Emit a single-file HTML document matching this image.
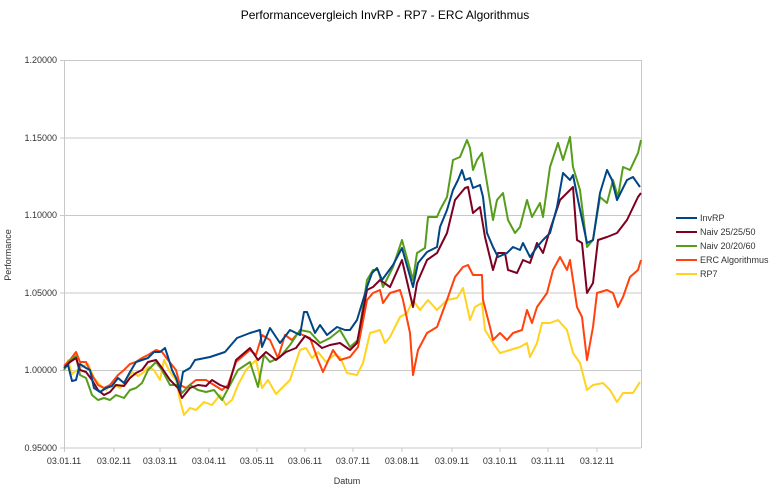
<!DOCTYPE html>
<html><head><meta charset="utf-8"><style>
body{margin:0;background:#fff}
svg{display:block;font-family:"Liberation Sans",sans-serif}
</style></head><body>
<svg width="770" height="494" viewBox="0 0 770 494">
<rect width="770" height="494" fill="#fff"/>
<text x="385" y="19" font-size="12" text-anchor="middle" fill="#000">Performancevergleich InvRP - RP7 - ERC Algorithmus</text>
<g stroke="#c8c8c8" stroke-width="1">
<line x1="60" y1="60.5" x2="641" y2="60.5"/>
<line x1="60" y1="138" x2="641" y2="138"/>
<line x1="60" y1="215.5" x2="641" y2="215.5"/>
<line x1="60" y1="293" x2="641" y2="293"/>
<line x1="60" y1="370.5" x2="641" y2="370.5"/>
<line x1="60" y1="448" x2="641" y2="448"/>
<line x1="64.5" y1="60" x2="64.5" y2="452"/>
<line x1="641.5" y1="60" x2="641.5" y2="448"/>
<line x1="114" y1="448" x2="114" y2="452"/><line x1="160" y1="448" x2="160" y2="452"/><line x1="209" y1="448" x2="209" y2="452"/><line x1="257" y1="448" x2="257" y2="452"/><line x1="305" y1="448" x2="305" y2="452"/><line x1="353" y1="448" x2="353" y2="452"/><line x1="402" y1="448" x2="402" y2="452"/><line x1="452" y1="448" x2="452" y2="452"/><line x1="500" y1="448" x2="500" y2="452"/><line x1="548" y1="448" x2="548" y2="452"/><line x1="597" y1="448" x2="597" y2="452"/>
</g>
<g font-size="9" fill="#333" text-anchor="end">
<text x="57" y="63">1.20000</text><text x="57" y="141">1.15000</text><text x="57" y="218">1.10000</text><text x="57" y="296">1.05000</text><text x="57" y="373">1.00000</text><text x="57" y="451">0.95000</text>
</g>
<g font-size="9" fill="#333" text-anchor="middle">
<text x="64" y="464">03.01.11</text><text x="114" y="464">03.02.11</text><text x="160" y="464">03.03.11</text><text x="209" y="464">03.04.11</text><text x="257" y="464">03.05.11</text><text x="305" y="464">03.06.11</text><text x="353" y="464">03.07.11</text><text x="402" y="464">03.08.11</text><text x="452" y="464">03.09.11</text><text x="500" y="464">03.10.11</text><text x="548" y="464">03.11.11</text><text x="597" y="464">03.12.11</text>
</g>
<text x="347" y="484" font-size="9" text-anchor="middle" fill="#333">Datum</text>
<text transform="translate(11,255) rotate(-90)" font-size="9" text-anchor="middle" fill="#333">Performance</text>
<g fill="none" stroke-width="2" stroke-linejoin="round">
<polyline stroke="#ffd320" points="64,370 68,360 72,374 80,368 88,364 94,378 100,385 106,390 112,383 120,388 126,382 132,372 138,376 144,372 148,367 154,370 160,380 164,360 170,372 176,380 180,400 184,415 190,408 196,410 204,402 212,405 220,395 226,405 232,400 238,385 246,370 256,360 262,388 268,380 276,394 282,388 290,380 300,350 306,348 312,358 318,352 326,362 334,355 340,357 347,373 357,375 363,363 370,333 380,330 385,343 390,337 400,317 407,313 413,300 420,310 428,300 437,310 447,300 457,298 463,288 470,320 475,307 482,303 485,330 493,343 500,353 510,350 520,347 527,343 530,357 537,343 542,323 550,323 558,320 567,330 573,353 580,363 587,390 593,385 603,383 610,390 617,402 623,393 633,393 640,382"/>
<polyline stroke="#ff420e" points="64,366 70,360 76,352 80,362 86,362 92,375 98,385 104,388 110,385 118,375 124,370 130,364 136,362 142,358 148,355 156,350 162,352 168,360 176,370 180,385 186,388 196,380 206,380 214,385 222,390 228,385 236,362 250,350 256,355 262,335 270,340 278,358 285,335 292,340 298,333 310,338 318,360 323,372 333,350 340,360 350,357 358,347 367,300 373,293 380,290 383,303 390,293 400,290 403,300 410,333 413,375 418,350 427,333 437,327 447,300 455,277 463,267 468,265 473,275 482,275 483,300 490,327 493,340 500,333 507,340 513,333 522,330 527,310 532,323 537,307 547,293 553,270 560,257 567,270 570,260 577,307 582,317 587,360 593,327 597,293 607,290 613,293 618,307 623,297 630,277 638,270 641,260"/>
<polyline stroke="#579d1c" points="64,370 70,360 76,356 80,375 86,378 92,395 98,400 104,398 110,400 116,395 124,398 130,390 136,388 142,383 148,370 156,362 162,370 170,385 178,385 182,393 190,385 198,390 206,392 214,390 222,400 230,385 238,370 250,362 258,387 264,355 270,362 280,357 290,345 300,330 310,332 320,343 330,338 340,330 350,347 358,340 367,280 373,270 378,270 383,287 393,267 402,240 413,280 417,253 425,248 428,217 437,217 440,210 447,197 453,160 460,157 467,140 470,148 473,170 477,160 482,153 487,183 493,220 497,200 503,193 508,220 515,233 520,227 527,200 532,217 540,203 543,217 550,167 558,143 563,160 570,137 573,167 580,190 587,247 593,240 600,197 607,203 613,180 618,197 623,167 630,170 638,153 641,140"/>
<polyline stroke="#7e0021" points="64,368 70,362 76,358 80,370 86,372 92,380 98,390 104,395 110,392 116,385 124,386 130,378 136,373 142,370 148,362 156,360 162,368 170,380 178,388 182,398 190,388 198,385 206,386 212,380 220,385 228,388 236,360 250,348 258,360 266,352 276,360 286,352 296,348 305,336 315,342 322,348 330,345 340,343 350,350 357,343 367,290 373,287 380,280 390,287 402,260 413,307 417,283 427,260 437,253 447,233 455,200 465,188 468,187 473,213 480,207 485,237 493,270 498,253 505,253 508,270 517,273 523,260 530,263 537,243 543,253 550,230 560,200 570,190 573,187 577,240 582,243 587,293 593,283 598,240 607,237 617,233 627,220 638,197 641,193"/>
<polyline stroke="#004586" points="64,368 68,365 72,381 76,380 80,364 86,368 90,370 94,388 100,392 106,388 112,386 118,378 124,383 130,372 136,362 142,360 148,358 154,352 160,352 165,348 168,357 172,370 176,378 180,390 183,372 190,368 195,360 210,357 225,352 237,338 250,333 260,330 262,347 270,328 280,343 290,330 300,335 304,312 307,312 315,333 320,325 327,335 337,327 345,330 350,330 357,320 367,287 372,273 377,268 382,280 393,265 402,248 413,287 418,263 427,252 437,247 440,227 447,210 453,190 458,180 462,170 465,180 470,178 473,188 480,185 483,197 487,233 493,247 498,257 507,253 513,247 520,250 523,243 530,257 537,247 543,240 550,233 557,207 563,173 570,180 573,175 578,200 587,243 593,240 600,193 607,170 612,180 617,200 627,180 633,177 640,187"/>
</g>
<g stroke-width="2">
<line x1="676" y1="218" x2="697" y2="218" stroke="#004586"/>
<line x1="676" y1="232" x2="697" y2="232" stroke="#7e0021"/>
<line x1="676" y1="246" x2="697" y2="246" stroke="#579d1c"/>
<line x1="676" y1="260" x2="697" y2="260" stroke="#ff420e"/>
<line x1="676" y1="274" x2="697" y2="274" stroke="#ffd320"/>
</g>
<g font-size="9" fill="#333">
<text x="700" y="221">InvRP</text>
<text x="700" y="235">Naiv 25/25/50</text>
<text x="700" y="249">Naiv 20/20/60</text>
<text x="700" y="263">ERC Algorithmus</text>
<text x="700" y="277">RP7</text>
</g>
</svg>
</body></html>
